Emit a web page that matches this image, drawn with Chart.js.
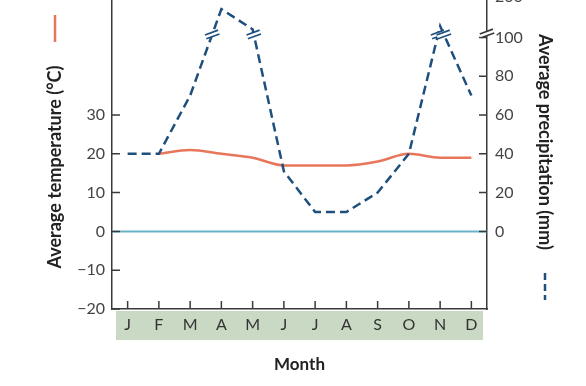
<!DOCTYPE html>
<html>
<head>
<meta charset="utf-8">
<script src="https://cdn.jsdelivr.net/npm/chart.js@4.4.1/dist/chart.umd.min.js"></script>
<style>
  html, body { margin: 0; padding: 0; background: #fff; overflow: hidden; }
  .wrap { position: absolute; left: 0; top: -10px; width: 586px; height: 396px; }
</style>
</head>
<body>
<div class="wrap"><canvas id="climate" width="586" height="396"></canvas></div>
<script>
/******************************************* data **/
const months = ["J", "F", "M", "A", "M", "J", "J", "A", "S", "O", "N", "D"];
const temperature = [null, 20, 21, 20, 19, 17, 17, 17, 18, 20, 19, 19];
const precipitation = [40, 40, 70, 170, 120, 31, 10, 10, 20, 40, 128, 70];
const tempTicks = [-20, -10, 0, 10, 20, 30];
const precipTicks = [0, 20, 40, 60, 80, 100, 200];
const precipBreak = 100;

/******************************************* styles **/
const red = "#e8765b";
const blue = "#1f4f7d";
const teal = "#68b3c7";
const axisColor = "#3a3a3a";
const bandColor = "#cad9c4";
const labelColor = "#444";
const titleColor = "#222";
const font = "Lato";

/******************************************* broken axis **/
// linear scale that squeezes everything above the break into the top strip
class BrokenScale extends Chart.LinearScale {
  getPixelForValue(value) {
    if (value === null || value === undefined) return NaN;
    const brk = this.options.brk;
    const frac = this.options.brkFrac;
    let d;
    if (value <= brk) d = ((value - this.min) / (brk - this.min)) * frac;
    else d = frac + ((value - brk) / (this.max - brk)) * (1 - frac);
    return this.getPixelForDecimal(d);
  }
}
BrokenScale.id = "broken";
BrokenScale.defaults = Chart.LinearScale.defaults;
Chart.register(BrokenScale);

// two slanted strokes with a white gap
function drawBreak(ctx, x, y, color) {
  ctx.save();
  ctx.translate(x, y);
  ctx.rotate(-0.35);
  ctx.fillStyle = "#fff";
  ctx.fillRect(-7, -2, 14, 4);
  ctx.strokeStyle = color;
  ctx.lineWidth = 1.6;
  ctx.beginPath();
  ctx.moveTo(-7, -2);
  ctx.lineTo(7, -2);
  ctx.moveTo(-7, 2);
  ctx.lineTo(7, 2);
  ctx.stroke();
  ctx.restore();
}

// keep the plot box fixed, no room reserved for overhanging labels
function noPadding(s) {
  s.paddingTop = 0;
  s.paddingBottom = 0;
  s.paddingLeft = 0;
  s.paddingRight = 0;
}

/******************************************* plugin **/
const decorations = {
  id: "decorations",
  beforeDraw(chart) {
    // green band behind month labels
    const { ctx, chartArea: a } = chart;
    ctx.save();
    ctx.fillStyle = bandColor;
    ctx.fillRect(a.left + 4, a.bottom + 2, a.width - 8, 29);
    ctx.restore();
  },
  beforeDatasetsDraw(chart) {
    // zero line
    const { ctx, chartArea: a, scales } = chart;
    const y0 = scales.yTemp.getPixelForValue(0);
    ctx.save();
    ctx.strokeStyle = teal;
    ctx.lineWidth = 2;
    ctx.beginPath();
    ctx.moveTo(a.left, y0);
    ctx.lineTo(a.right, y0);
    ctx.stroke();
    ctx.restore();
  },
  afterDraw(chart) {
    const { ctx, chartArea: a, scales } = chart;
    const x = scales.x, yT = scales.yTemp, yP = scales.yPrecip;

    // inward tick marks
    ctx.save();
    ctx.strokeStyle = axisColor;
    ctx.lineWidth = 1.5;
    ctx.beginPath();
    months.forEach((m, i) => {
      const px = x.getPixelForValue(i);
      ctx.moveTo(px, a.bottom);
      ctx.lineTo(px, a.bottom - 8);
    });
    tempTicks.forEach((t) => {
      const py = yT.getPixelForValue(t);
      ctx.moveTo(a.left, py);
      ctx.lineTo(a.left + 8, py);
    });
    precipTicks.forEach((t) => {
      const py = yP.getPixelForValue(t);
      ctx.moveTo(a.right, py);
      ctx.lineTo(a.right - 8, py);
    });
    ctx.stroke();
    ctx.restore();

    // breaks where the precipitation line crosses the break level
    const meta = chart.getDatasetMeta(0);
    const yb = yP.getPixelForValue(precipBreak) - 3;
    for (let i = 0; i < precipitation.length - 1; i++) {
      const p0 = precipitation[i], p1 = precipitation[i + 1];
      if ((p0 - precipBreak) * (p1 - precipBreak) >= 0) continue;
      const a0 = meta.data[i], a1 = meta.data[i + 1];
      const t = (yb - a0.y) / (a1.y - a0.y);
      drawBreak(ctx, a0.x + t * (a1.x - a0.x), yb, blue);
    }
    drawBreak(ctx, a.right, yP.getPixelForValue(precipBreak) - 4, axisColor);

    // axis titles with their line keys
    ctx.save();
    ctx.fillStyle = titleColor;
    ctx.font = `bold 18px ${font}`;
    ctx.textAlign = "center";
    ctx.textBaseline = "middle";

    ctx.save();
    ctx.translate(55, 177);
    ctx.rotate(-Math.PI / 2);
    ctx.fillText("Average temperature (°C)", 0, 0);
    ctx.restore();

    ctx.save();
    ctx.translate(545, 152);
    ctx.rotate(Math.PI / 2);
    ctx.fillText("Average precipitation (mm)", 0, 0);
    ctx.restore();

    ctx.lineWidth = 2.5;
    ctx.strokeStyle = red;
    ctx.beginPath();
    ctx.moveTo(55, 25);
    ctx.lineTo(55, 52);
    ctx.stroke();

    ctx.strokeStyle = blue;
    ctx.setLineDash([7, 4]);
    ctx.beginPath();
    ctx.moveTo(545, 283);
    ctx.lineTo(545, 310);
    ctx.stroke();
    ctx.restore();
  },
};

/******************************************* chart **/
const ctx = document.getElementById("climate");

new Chart(ctx, {
  type: "line",
  data: {
    labels: months,
    datasets: [
      {
        label: "Average precipitation (mm)",
        data: precipitation,
        yAxisID: "yPrecip",
        borderColor: blue,
        borderWidth: 2.5,
        borderDash: [9, 5],
        pointRadius: 0,
        tension: 0,
        fill: false,
      },
      {
        label: "Average temperature (°C)",
        data: temperature,
        yAxisID: "yTemp",
        borderColor: red,
        borderWidth: 2.5,
        pointRadius: 0,
        cubicInterpolationMode: "monotone",
        fill: false,
      },
    ],
  },
  options: {
    responsive: false,
    animation: false,
    layout: { padding: { top: 7, left: 0, right: 0, bottom: 0 } },
    plugins: {
      legend: { display: false },
      tooltip: { enabled: false },
    },
    scales: {
      x: {
        offset: true,
        grid: { display: false, drawTicks: false, offset: true },
        border: { color: axisColor, width: 1.5 },
        ticks: {
          color: "#333",
          font: { family: font, size: 16 },
          padding: 6,
          autoSkip: false,
          maxRotation: 0,
        },
        title: {
          display: true,
          text: "Month",
          color: titleColor,
          font: { family: font, size: 17, weight: "bold" },
          padding: { top: 0, bottom: 11 },
        },
        afterFit(s) {
          s.height = 77;
          noPadding(s);
        },
      },
      yTemp: {
        position: "left",
        min: -20,
        max: 60.4,
        grid: { display: false, drawTicks: false },
        border: { color: axisColor, width: 1.5 },
        ticks: {
          color: labelColor,
          font: { family: font, size: 16 },
          padding: 7,
          callback: (v) => (v < 0 ? "\u2212" + Math.abs(v) : String(v)),
        },
        afterBuildTicks(s) {
          s.ticks = tempTicks.map((v) => ({ value: v }));
        },
        afterFit(s) {
          s.width = 112;
          noPadding(s);
        },
      },
      yPrecip: {
        type: "broken",
        position: "right",
        min: -40,
        max: 200,
        brk: precipBreak,
        brkFrac: 0.8705,
        grid: { display: false, drawTicks: false },
        border: { color: axisColor, width: 1.5 },
        ticks: {
          color: labelColor,
          font: { family: font, size: 16 },
          padding: 8,
        },
        afterBuildTicks(s) {
          s.ticks = precipTicks.map((v) => ({ value: v }));
        },
        afterFit(s) {
          s.width = 99;
          noPadding(s);
        },
      },
    },
  },
  plugins: [decorations],
});
</script>
</body>
</html>
